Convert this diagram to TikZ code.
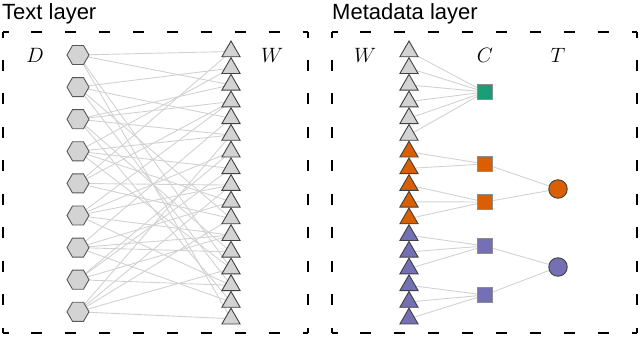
\documentclass[tikz,border=0pt]{standalone}
\usepackage{fontspec}
\setmainfont{Liberation Sans}
\usetikzlibrary{shapes.geometric,backgrounds}
\definecolor{nodegray}{HTML}{D3D3D3}
\definecolor{edgegray}{HTML}{D2D2D2}
\definecolor{topicA}{HTML}{1B9E77}
\definecolor{topicB}{HTML}{D95F02}
\definecolor{topicC}{HTML}{7570B3}
\tikzset{
  title/.style={anchor=base west, inner sep=0pt, font=\fontsize{22}{24}\selectfont},
  lab/.style={font=\fontsize{21}{21}\selectfont},
  frameh/.style={line width=2pt, dash pattern=on 11pt off 22.9pt, dash phase=5.5pt},
  framev/.style={line width=2pt, dash pattern=on 11pt off 22.45pt, dash phase=5.5pt},
  doc/.style={regular polygon, regular polygon sides=6, minimum size=22pt, inner sep=0pt,
    fill=nodegray, draw=black!65, line width=0.9pt},
  word/.style={regular polygon, regular polygon sides=3, minimum size=21pt, inner sep=0pt,
    draw=black!75, line width=0.9pt},
  cat/.style={rectangle, minimum size=15.5pt, inner sep=0pt, draw=black!45, line width=0.9pt},
  topic/.style={circle, minimum size=18.5pt, inner sep=0pt, draw=black!75, line width=0.9pt},
  link/.style={edgegray, line width=0.9pt}
}

\begin{document}
\begin{tikzpicture}[x=1pt,y=-1pt]
  \useasboundingbox (0,0) rectangle (640,338);

  % Titles
  \node[title] (ttext) at (2,19) {Text layer};
  \node[title] (tmeta) at (332,19) {Metadata layer};

  % Dashed frames
  \draw[frameh] (3,32) -- (308,32);
  \draw[frameh] (3,333) -- (308,333);
  \draw[framev] (3,32) -- (3,333);
  \draw[framev] (308,32) -- (308,333);
  \draw[frameh] (332,32) -- (637,32);
  \draw[frameh] (332,333) -- (637,333);
  \draw[framev] (332,32) -- (332,333);
  \draw[framev] (637,32) -- (637,333);

  % Column labels
  \node[lab] (ld) at (35,55) {$D$};
  \node[lab] (lw) at (272,55) {$W$};
  \node[lab] (rw) at (365,55) {$W$};
  \node[lab] (lc) at (485,55) {$C$};
  \node[lab] (lt) at (558,55) {$T$};

  % Text layer: documents and words
  \foreach \i in {1,...,9}
    \node[doc] (h\i) at (78,{55+32.1*(\i-1)}) {};
  \foreach \i in {1,...,17}
    \node[word, fill=nodegray] (w\i) at (231,{51.5+16.7*(\i-1)}) {};

  \begin{scope}[on background layer]
    \foreach \d/\ws in {1/{1,3,14,17}, 2/{2,5,11,15}, 3/{3,4,6,13,16},
        4/{2,6,8,10,14}, 5/{1,4,9,11}, 6/{4,7,9,12,15},
        7/{5,10,12,13,16}, 8/{7,8,12,15}, 9/{6,9,11,14,17}}
      \foreach \w in \ws
        \draw[link] (h\d.center) -- (w\w.center);
  \end{scope}

  % Metadata layer: words, categories, topics
  \foreach \i/\c in {1/nodegray, 2/nodegray, 3/nodegray, 4/nodegray, 5/nodegray, 6/nodegray,
      7/topicB, 8/topicB, 9/topicB, 10/topicB, 11/topicB,
      12/topicC, 13/topicC, 14/topicC, 15/topicC, 16/topicC, 17/topicC}
    \node[word, fill=\c] (m\i) at (409,{51.5+16.7*(\i-1)}) {};

  \node[cat, fill=topicA] (c1) at (485,92) {};
  \node[cat, fill=topicB] (c2) at (485,164) {};
  \node[cat, fill=topicB] (c3) at (485,202) {};
  \node[cat, fill=topicC] (c4) at (485,246) {};
  \node[cat, fill=topicC] (c5) at (485,295) {};

  \node[topic, fill=topicB] (p1) at (558,189) {};
  \node[topic, fill=topicC] (p2) at (558,267) {};

  \begin{scope}[on background layer]
    \foreach \c/\ws in {1/{1,2,3,4,5,6}, 2/{7,8}, 3/{9,10,11},
        4/{12,13,14}, 5/{15,16,17}}
      \foreach \w in \ws
        \draw[link] (m\w.center) -- (c\c.center);
    \draw[link] (c2.center) -- (p1.center);
    \draw[link] (c3.center) -- (p1.center);
    \draw[link] (c4.center) -- (p2.center);
    \draw[link] (c5.center) -- (p2.center);
  \end{scope}

\end{tikzpicture}
\end{document}
